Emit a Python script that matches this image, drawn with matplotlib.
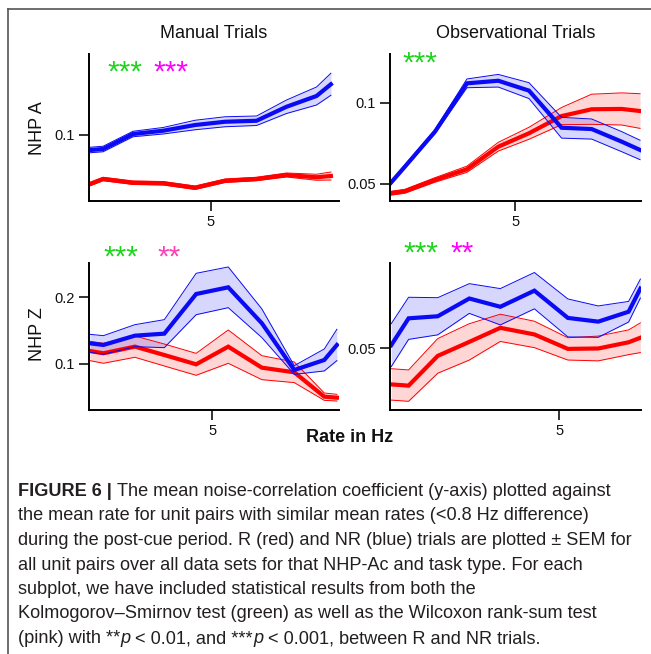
import numpy as np
import matplotlib
matplotlib.use("Agg")
import matplotlib.pyplot as plt
from matplotlib.lines import Line2D

plt.rcParams['font.family'] = ['Liberation Sans', 'DejaVu Sans']

# ---- data (mean noise correlation +/- SEM vs mean rate) ----
# NHP A, manual trials
a_man_x = [0.97, 1.4, 2.4, 3.4, 4.47, 5.47, 6.52, 7.52, 8.52, 9.0]
a_man_nr = [0.094, 0.0944, 0.1004, 0.1017, 0.104, 0.1053, 0.1057, 0.1113, 0.1156, 0.1203]
a_man_nr_sem = [0.0011, 0.0011, 0.0011, 0.0013, 0.0019, 0.002, 0.0019, 0.0027, 0.0036, 0.0044]
a_man_r = [0.0804, 0.0824, 0.0809, 0.0807, 0.0789, 0.0817, 0.0824, 0.084, 0.0831, 0.0836]
a_man_r_sem = [0.0007, 0.0007, 0.0007, 0.0007, 0.0007, 0.0007, 0.0007, 0.0008, 0.0012, 0.0016]

# NHP A, observational trials
a_obs_x = [1.0, 1.45, 2.42, 3.45, 4.46, 5.45, 6.5, 7.47, 8.44, 9.03]
a_obs_nr = [0.0508, 0.0607, 0.0823, 0.1121, 0.1137, 0.1076, 0.0847, 0.0839, 0.0761, 0.071]
a_obs_nr_sem = [0.001, 0.001, 0.0012, 0.0027, 0.0039, 0.0049, 0.0064, 0.0062, 0.0062, 0.006]
a_obs_r = [0.0443, 0.0455, 0.0525, 0.0591, 0.073, 0.0813, 0.0919, 0.0961, 0.0963, 0.095]
a_obs_r_sem = [0.0012, 0.0012, 0.0014, 0.0019, 0.0027, 0.0037, 0.0053, 0.0093, 0.0099, 0.0107]

# NHP Z, manual trials
z_man_x = [0.93, 1.38, 2.43, 3.41, 4.47, 5.54, 6.66, 7.74, 8.74, 9.16]
z_man_nr = [0.1309, 0.1284, 0.1423, 0.1453, 0.2045, 0.2145, 0.1608, 0.091, 0.106, 0.1284]
z_man_nr_sem = [0.0134, 0.0139, 0.0164, 0.0209, 0.0309, 0.0304, 0.0214, 0.0065, 0.0164, 0.0234]
z_man_r = [0.1194, 0.116, 0.1259, 0.1134, 0.0995, 0.1259, 0.0945, 0.0876, 0.0512, 0.0497]
z_man_r_sem = [0.0144, 0.0149, 0.0159, 0.0164, 0.0164, 0.0249, 0.0179, 0.0154, 0.0055, 0.005]

# NHP Z, observational trials
z_obs_x = [2.29, 2.57, 3.04, 3.55, 4.05, 4.6, 5.14, 5.63, 6.12, 6.31]
z_obs_nr = [0.0507, 0.0572, 0.0577, 0.062, 0.06, 0.0639, 0.0573, 0.0564, 0.0588, 0.0644]
z_obs_nr_sem = [0.0052, 0.0051, 0.0045, 0.0036, 0.0044, 0.0044, 0.0046, 0.0038, 0.0025, 0.0023]
z_obs_r = [0.0412, 0.0409, 0.0481, 0.0515, 0.0549, 0.0533, 0.0498, 0.0499, 0.0514, 0.0525]
z_obs_r_sem = [0.0038, 0.0038, 0.0042, 0.0044, 0.0033, 0.0032, 0.0027, 0.003, 0.003, 0.0036]

col_titles = ["Manual Trials", "Observational Trials"]
row_labels = ["NHP A", "NHP Z"]
# significance: (KS stars, Wilcoxon stars, wilcoxon colour)
a_man_sig = ("***", "***", "#ff00ff")
a_obs_sig = ("***", "", "#ff00ff")
z_man_sig = ("***", "**", "#ff3fb4")
z_obs_sig = ("***", "**", "#ff00ff")

# caption lines as (text, style) segments: n = normal, b = bold, i = italic
caption = [
    [("FIGURE 6 |", "b"), (" The mean noise-correlation coefficient (y-axis) plotted against", "n")],
    [("the mean rate for unit pairs with similar mean rates (<0.8 Hz difference)", "n")],
    [("during the post-cue period. R (red) and NR (blue) trials are plotted \u00b1 SEM for", "n")],
    [("all unit pairs over all data sets for that NHP-Ac and task type. For each", "n")],
    [("subplot, we have included statistical results from both the", "n")],
    [("Kolmogorov\u2013Smirnov test (green) as well as the Wilcoxon rank-sum test", "n")],
    [("(pink) with **", "n"), ("p", "i"), (" < 0.01, and ***", "n"), ("p", "i"),
     (" < 0.001, between R and NR trials.", "n")],
]

W, H = 651, 654
fig = plt.figure(figsize=(W / 100, H / 100), dpi=100)
renderer = fig.canvas.get_renderer()


def fx(x):
    return x / W


def fy(y):
    return 1 - y / H


def panel(left, top, right, bottom, x, nr, nr_sem, r, r_sem, xlim, ylim, yticks, ylabels):
    ax = fig.add_axes([fx(left), fy(bottom), fx(right) - fx(left), fy(top) - fy(bottom)])
    for m, s, c in [(r, r_sem, "#ff0000"), (nr, nr_sem, "#0a0af5")]:
        m = np.array(m)
        s = np.array(s)
        ax.fill_between(x, m - s, m + s, color=c, alpha=0.16, lw=0)
        ax.plot(x, m - s, color=c, lw=0.7)
        ax.plot(x, m + s, color=c, lw=0.7)
        ax.plot(x, m, color=c, lw=3.0, solid_joinstyle="miter")
    ax.set_xlim(xlim)
    ax.set_ylim(ylim)
    ax.set_xticks([5])
    ax.set_xticklabels(["5"])
    ax.set_yticks(yticks)
    ax.set_yticklabels(ylabels)
    for sp in ["top", "right"]:
        ax.spines[sp].set_visible(False)
    for sp in ["left", "bottom"]:
        ax.spines[sp].set_linewidth(1.4)
    ax.tick_params(direction="out", length=7, width=1.2, pad=3, labelsize=10.5, colors="#111111")
    return ax


panel(89, 54, 339, 201, a_man_x, a_man_nr, a_man_nr_sem, a_man_r, a_man_r_sem,
      (0.93, 9.27), (0.0736, 0.1324), [0.1], ["0.1"])
panel(390, 54, 641, 201, a_obs_x, a_obs_nr, a_obs_nr_sem, a_obs_r, a_obs_r_sem,
      (0.97, 9.06), (0.0395, 0.1302), [0.05, 0.1], ["0.05", "0.1"])
panel(89, 263, 339, 410, z_man_x, z_man_nr, z_man_nr_sem, z_man_r, z_man_r_sem,
      (0.9, 9.23), (0.0313, 0.2508), [0.1, 0.2], ["0.1", "0.2"])
panel(390, 263, 641, 410, z_obs_x, z_obs_nr, z_obs_nr_sem, z_obs_r, z_obs_r_sem,
      (2.27, 6.32), (0.035, 0.0706), [0.05], ["0.05"])

# column titles and row labels
fig.text(fx(214), fy(33), col_titles[0], ha="center", va="center", fontsize=13, color="#111111")
fig.text(fx(516), fy(33), col_titles[1], ha="center", va="center", fontsize=13, color="#111111")
fig.text(fx(38), fy(128), row_labels[0], ha="center", va="center", rotation=90, fontsize=13, color="#111111")
fig.text(fx(38), fy(334), row_labels[1], ha="center", va="center", rotation=90, fontsize=13, color="#111111")
fig.text(fx(350), fy(438), "Rate in Hz", ha="center", va="center", fontsize=13, fontweight="bold", color="#111111")

# significance stars
green = "#1bd41b"
for (ks, wx, wcol), (x1, x2, yc) in [(a_man_sig, (107, 153, 68)), (a_obs_sig, (402, 448, 59)),
                                      (z_man_sig, (103, 157, 253)), (z_obs_sig, (403, 450, 249))]:
    fig.text(fx(x1), fy(yc + 13), ks, ha="left", va="baseline", fontsize=21.5, color=green)
    if wx:
        fig.text(fx(x2), fy(yc + 13), wx, ha="left", va="baseline", fontsize=21.5, color=wcol)

# caption, drawn segment by segment
cap_size = 13.1
space_px = 0.278 * cap_size * 100 / 72
styles = {"n": {}, "b": {"fontweight": "bold"}, "i": {"fontstyle": "italic"}}
for i, segs in enumerate(caption):
    x = 18.0
    y = 496 + i * 24.5
    for text, st in segs:
        lead = len(text) - len(text.lstrip(" "))
        trail = len(text) - len(text.rstrip(" "))
        x += lead * space_px
        t = fig.text(fx(x), fy(y), text.strip(" "), ha="left", va="baseline",
                     fontsize=cap_size, color="#231f20", **styles[st])
        x += t.get_window_extent(renderer).width + trail * space_px

# outer frame (top and left edges)
fig.add_artist(Line2D([fx(8), fx(8)], [fy(H), fy(9)], color="#555555", lw=1.2))
fig.add_artist(Line2D([fx(8), fx(W)], [fy(9), fy(9)], color="#555555", lw=1.2))

fig.savefig("out.png", dpi=100)
